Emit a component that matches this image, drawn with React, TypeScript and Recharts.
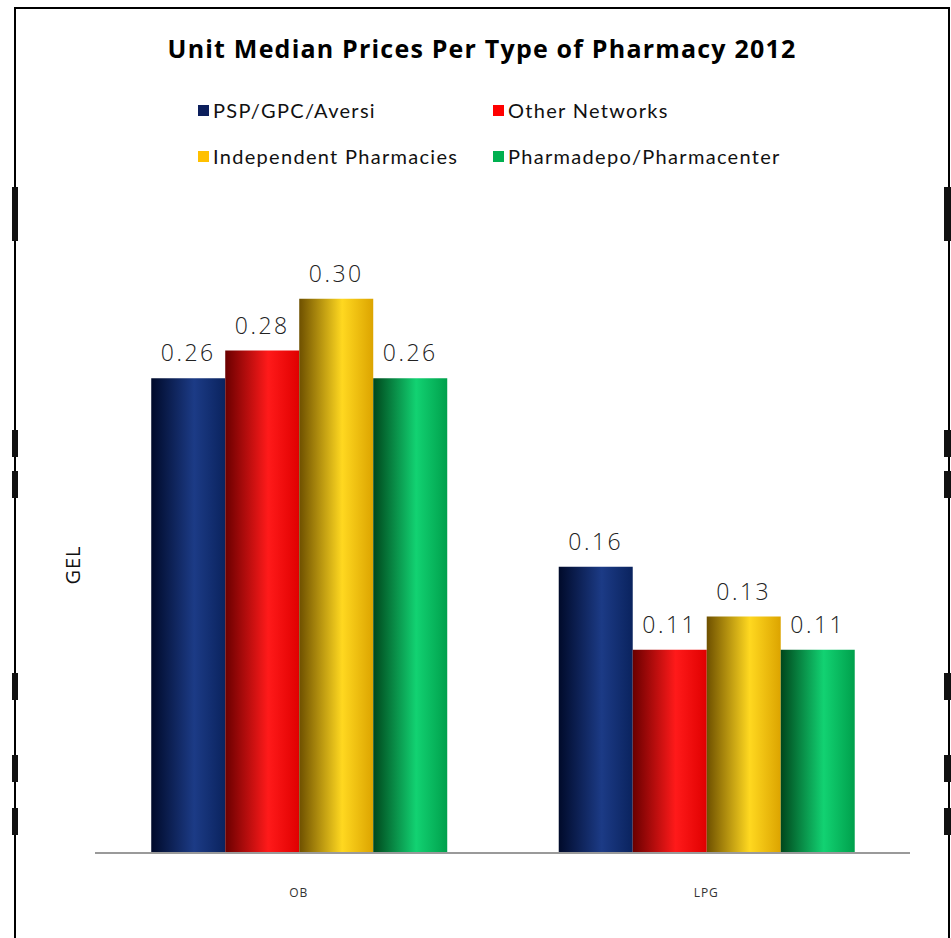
import { Bar, BarChart, LabelList, XAxis, YAxis } from "recharts";

const categories = ["OB", "LPG"];
const seriesNames = ["PSP/GPC/Aversi", "Other Networks", "Independent Pharmacies", "Pharmadepo/Pharmacenter"];
const pspValues = [0.257, 0.155];
const otherValues = [0.272, 0.11];
const independentValues = [0.3, 0.128];
const pharmadepoValues = [0.257, 0.11];
const pspLabels = ["0.26", "0.16"];
const otherLabels = ["0.28", "0.11"];
const independentLabels = ["0.30", "0.13"];
const pharmadepoLabels = ["0.26", "0.11"];

const legendColors = ["#0c1f5c", "#ff0000", "#ffc000", "#00b050"];
const gradients = [
  { id: "g-psp", stops: ["#000a2a", "#1c3b86", "#0a235e"] },
  { id: "g-other", stops: ["#6a0000", "#ff1a1a", "#e00000"] },
  { id: "g-indep", stops: ["#6e5000", "#ffd820", "#dca400"] },
  { id: "g-depo", stops: ["#00471c", "#12d272", "#00a04c"] },
];

// decorative border marks seen on the sheet edges
const edgeMarks = [
  [187, 241],
  [430, 457],
  [471, 498],
  [673, 700],
  [755, 782],
  [808, 835],
];

const data = categories.map((name, i) => ({
  name,
  psp: pspValues[i],
  other: otherValues[i],
  indep: independentValues[i],
  depo: pharmadepoValues[i],
  pspLabel: pspLabels[i],
  otherLabel: otherLabels[i],
  indepLabel: independentLabels[i],
  depoLabel: pharmadepoLabels[i],
}));

const seriesKeys = ["psp", "other", "indep", "depo"];
const labelFont = { fill: "#222", fontSize: 23, fontFamily: "'Open Sans', sans-serif", fontWeight: 300, letterSpacing: 2.5 };

export default function App() {
  return (
    <div style={{ position: "relative", width: 951, height: 938, background: "#fff", overflow: "hidden" }}>
      <style>{"body{margin:0}"}</style>
      <div style={{ position: "absolute", left: 14, top: 7, right: 1, bottom: -10, border: "2px solid #000" }} />
      {edgeMarks.map(([y1, y2]) => (
        <div key={y1}>
          <div style={{ position: "absolute", left: 12, top: y1, width: 6, height: y2 - y1, background: "#111" }} />
          <div style={{ position: "absolute", left: 944, top: y1, width: 7, height: y2 - y1, background: "#111" }} />
        </div>
      ))}
      <div
        style={{
          position: "absolute",
          top: 31,
          left: 0,
          width: 964,
          textAlign: "center",
          fontFamily: "'Open Sans', sans-serif",
          fontWeight: 700,
          fontSize: 25,
          letterSpacing: 1.2,
          color: "#000",
        }}
      >
        Unit Median Prices Per Type of Pharmacy 2012
      </div>
      <div style={{ position: "absolute", top: 98, left: 198, fontFamily: "Lato, sans-serif", fontSize: 20, color: "#111" }}>
        {seriesNames.map((name, i) => (
          <div
            key={name}
            style={{
              position: "absolute",
              left: (i % 2) * 295,
              top: Math.floor(i / 2) * 46,
              whiteSpace: "nowrap",
              display: "flex",
              alignItems: "center",
              letterSpacing: 1.3,
            }}
          >
            <span style={{ width: 11, height: 11, background: legendColors[i], marginRight: 4, display: "inline-block" }} />
            {name}
          </div>
        ))}
      </div>
      <div
        style={{
          position: "absolute",
          left: 72,
          top: 565,
          transform: "translate(-50%, -50%) rotate(-90deg)",
          fontFamily: "'Open Sans', sans-serif",
          fontSize: 20,
          letterSpacing: 1,
          color: "#111",
        }}
      >
        GEL
      </div>
      <div style={{ position: "absolute", left: 0, top: 0 }}>
        <BarChart
          width={951}
          height={938}
          data={data}
          margin={{ top: 188, right: 41, bottom: 55, left: 95 }}
          barGap={0}
          barCategoryGap="13.8%"
        >
          <defs>
            {gradients.map((g) => (
              <linearGradient key={g.id} id={g.id} x1="0" x2="1" y1="0" y2="0">
                <stop offset="0%" stopColor={g.stops[0]} />
                <stop offset="58%" stopColor={g.stops[1]} />
                <stop offset="100%" stopColor={g.stops[2]} />
              </linearGradient>
            ))}
          </defs>
          <XAxis
            dataKey="name"
            height={30}
            tickLine={false}
            axisLine={{ stroke: "#9a9a9a", strokeWidth: 2 }}
            tick={{ fill: "#333", fontSize: 12, fontFamily: "'Open Sans', sans-serif", letterSpacing: 1 }}
            dy={27}
          />
          <YAxis hide domain={[0, 0.36]} />
          {seriesKeys.map((key, i) => (
            <Bar key={key} dataKey={key} name={seriesNames[i]} fill={`url(#${gradients[i].id})`} isAnimationActive={false}>
              <LabelList dataKey={`${key}Label`} position="top" offset={17} style={labelFont} />
            </Bar>
          ))}
        </BarChart>
      </div>
    </div>
  );
}
